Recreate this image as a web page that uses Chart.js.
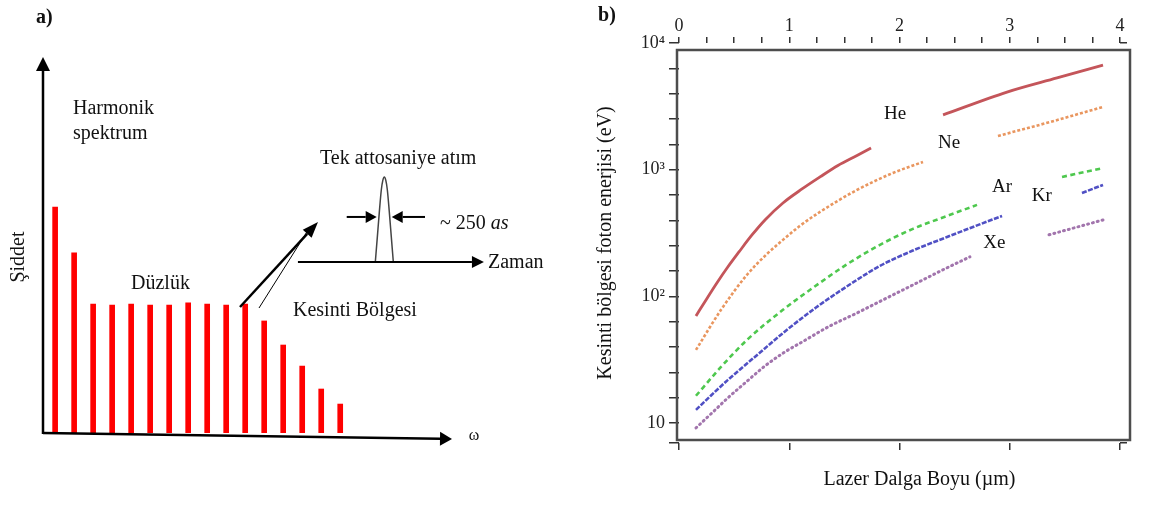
<!DOCTYPE html>
<html>
<head>
<meta charset="utf-8">
<script src="https://cdn.jsdelivr.net/npm/chart.js@4.4.1/dist/chart.umd.min.js"></script>
<style>
  html, body { margin: 0; padding: 0; background: #fff; }
  #wrap { position: relative; width: 1172px; height: 523px; overflow: hidden; }
  #chart-a { position: absolute; left: 0; top: 0; }
  #chart-b { position: absolute; left: 580px; top: 0; }
</style>
</head>
<body>
<div id="wrap">
  <canvas id="chart-a" width="580" height="523"></canvas>
  <canvas id="chart-b" width="592" height="523"></canvas>
</div>
<script>
Chart.defaults.font.family = "'Liberation Serif', 'Times New Roman', serif";
Chart.defaults.color = "#111";
Chart.defaults.animation = false;

// ---- panel a : harmonic spectrum (arbitrary units) ----
const harmonicOrder = [1, 2, 3, 4, 5, 6, 7, 8, 9, 10, 11, 12, 13, 14, 15, 16];
const harmonicIntensity = [60.1, 47.9, 34.3, 34.0, 34.3, 34.0, 34.0, 34.6, 34.3, 34.0, 34.3, 29.8, 23.4, 17.8, 11.7, 7.7];

// single attosecond pulse (time in as, amplitude normalised)
const pulseTime = [-150, -117, -83, -50, -25, 0, 25, 50, 83, 117, 150];
const pulseAmp = [0, 0.29, 0.59, 0.85, 0.96, 1, 0.96, 0.85, 0.59, 0.29, 0];

// ---- panel b : cutoff photon energy (eV) vs laser wavelength (um) ----
// null = break in the curve (where the label sits)
const heX = [0.154, 0.245, 0.345, 0.444, 0.544, 0.662, 0.78, 0.943, 1.116, 1.279, 1.442, 1.615, 1.742, null, 2.395, 2.975, 3.429, 3.846];
const heY = [70, 93.7, 128, 171, 224, 305, 401, 546, 704, 876, 1079, 1294, 1483, null, 2705, 4100, 5300, 6700];

const neX = [0.154, 0.381, 0.617, 0.798, 0.943, 1.097, 1.279, 1.615, 1.941, 2.213, null, 2.893, 3.365, 3.846];
const neY = [37.8, 78.2, 148, 216, 279, 360, 464, 692, 942, 1151, null, 1845, 2377, 3126];

const arX = [0.154, 0.381, 0.617, 0.943, 1.279, 1.515, 1.823, 2.122, 2.431, 2.703, null, 3.474, 3.846];
const arY = [16.4, 27.7, 45.3, 78.2, 128, 177, 255, 341, 431, 527, null, 876, 1030];

const krX = [0.154, 0.281, 0.444, 0.735, 0.961, 1.243, 1.615, 1.823, 2.122, 2.431, 2.667, 2.93, null, 3.655, 3.846];
const krY = [12.7, 16.2, 21.9, 36.0, 52.8, 81.6, 135, 174, 230, 294, 353, 431, null, 655, 757];

const xeX = [0.154, 0.299, 0.444, 0.599, 0.78, 0.961, 1.116, 1.37, 1.615, 1.823, 2.122, 2.431, 2.639, null, 3.356, 3.846];
const xeY = [9.14, 12.0, 15.8, 20.7, 28.2, 36.4, 43.6, 58.4, 73.9, 91.2, 123, 168, 205, null, 306, 401];

const elementNames = ["He", "Ne", "Ar", "Kr", "Xe"];
const labelX = [1.96, 2.45, 2.93, 3.29, 2.86];
const labelY = [2754, 1626, 730, 619, 264];

const yMin = 6.95;
const yMax = 10000;
const yMajorValues = [10, 100, 1000, 10000];
const yMajorLabels = ["10", "10²", "10³", "10⁴"];
const yMinorValues = [15.85, 25.12, 39.81, 63.1, 158.5, 251.2, 398.1, 631, 1585, 2512, 3981, 6310];

function points(xs, ys) {
  return xs.map((x, i) => ({ x: x === null ? (xs[i - 1] + xs[i + 1]) / 2 : x, y: ys[i] }));
}

function arrow(ctx, x1, y1, x2, y2, head, half, width) {
  const ang = Math.atan2(y2 - y1, x2 - x1);
  const bx = x2 - head * Math.cos(ang);
  const by = y2 - head * Math.sin(ang);
  ctx.save();
  ctx.strokeStyle = "#000";
  ctx.fillStyle = "#000";
  ctx.lineWidth = width;
  ctx.beginPath();
  ctx.moveTo(x1, y1);
  ctx.lineTo(bx, by);
  ctx.stroke();
  ctx.beginPath();
  ctx.moveTo(x2, y2);
  ctx.lineTo(bx + half * Math.sin(ang), by - half * Math.cos(ang));
  ctx.lineTo(bx - half * Math.sin(ang), by + half * Math.cos(ang));
  ctx.closePath();
  ctx.fill();
  ctx.restore();
}

//panel a decorations: axes arrows and texts
const spectrumDecor = {
  id: "spectrumDecor",
  afterDraw(chart) {
    const { ctx, chartArea: a, scales } = chart;
    const tx = scales.tx, ty = scales.ty;

    arrow(ctx, a.left, a.bottom + 1, a.left, a.top, 14, 7, 2.5);
    arrow(ctx, a.left, a.bottom, a.right, a.bottom + 6, 12, 7, 2.5);

    // arrow from the cutoff to the pulse
    arrow(ctx, 240, 307, 318, 222, 16, 6, 2.5);
    ctx.save();
    ctx.lineWidth = 1;
    ctx.beginPath();
    ctx.moveTo(259, 308);
    ctx.lineTo(310, 227);
    ctx.stroke();
    ctx.restore();

    // time axis + width arrows
    const base = ty.getPixelForValue(0);
    arrow(ctx, tx.getPixelForValue(-1440), base, tx.getPixelForValue(1660), base, 12, 6, 2);
    const half = ty.getPixelForValue(0.53);
    arrow(ctx, tx.getPixelForValue(-627), half, tx.getPixelForValue(-127), half, 11, 6, 2);
    arrow(ctx, tx.getPixelForValue(678), half, tx.getPixelForValue(123), half, 11, 6, 2);

    ctx.save();
    ctx.fillStyle = "#111";
    ctx.textBaseline = "alphabetic";
    ctx.font = "bold 20px 'Liberation Serif'";
    ctx.fillText("a)", 36, 23);
    ctx.font = "20px 'Liberation Serif'";
    ctx.fillText("Harmonik", 73, 114);
    ctx.fillText("spektrum", 73, 139);
    ctx.fillText("Düzlük", 131, 289);
    ctx.fillText("Kesinti Bölgesi", 293, 316);
    ctx.fillText("Tek attosaniye atım", 320, 164);
    ctx.fillText("Zaman", 488, 268);
    ctx.fillText("~ 250 ", 440, 229);
    const w = ctx.measureText("~ 250 ").width;
    ctx.font = "italic 20px 'Liberation Serif'";
    ctx.fillText("as", 440 + w, 229);
    ctx.font = "16px 'Liberation Serif'";
    ctx.textAlign = "center";
    ctx.fillText("ω", 474, 440);
    ctx.font = "20px 'Liberation Serif'";
    ctx.translate(24, 257);
    ctx.rotate(-Math.PI / 2);
    ctx.fillText("Şiddet", 0, 0);
    ctx.restore();
  }
};

new Chart(document.getElementById("chart-a"), {
  type: "bar",
  data: {
    datasets: [
      {
        type: "bar",
        data: points(harmonicOrder, harmonicIntensity),
        backgroundColor: "#ff0000",
        borderWidth: 0,
        barThickness: 5,
        xAxisID: "x",
        yAxisID: "y"
      },
      {
        type: "line",
        data: points(pulseTime, pulseAmp),
        borderColor: "#444",
        borderWidth: 1.5,
        pointRadius: 0,
        cubicInterpolationMode: "monotone",
        xAxisID: "tx",
        yAxisID: "ty"
      }
    ]
  },
  options: {
    responsive: false,
    devicePixelRatio: 1,
    layout: { padding: { left: 43, right: 128, top: 57, bottom: 90 } },
    plugins: { legend: { display: false }, tooltip: { enabled: false } },
    scales: {
      x: { type: "linear", axis: "x", min: 0.23, max: 21.75, offset: false, display: false },
      y: { type: "linear", axis: "y", min: 0, max: 100, display: false },
      tx: { type: "linear", axis: "x", min: -5689, max: 1128, offset: false, display: false },
      ty: { type: "linear", axis: "y", min: -2.012, max: 2.412, display: false }
    }
  },
  plugins: [spectrumDecor]
});

//panel b decorations: frame, gas labels, titles
const cutoffDecor = {
  id: "cutoffDecor",
  beforeDatasetsDraw(chart) {
    const { ctx, chartArea: a } = chart;
    ctx.save();
    ctx.strokeStyle = "#4d4d4d";
    ctx.lineWidth = 2.5;
    ctx.strokeRect(a.left - 2, a.top + 7, a.right - a.left + 12, a.bottom - a.top - 10);
    ctx.restore();
  },
  afterDatasetsDraw(chart) {
    const { ctx, chartArea: a, scales } = chart;
    ctx.save();
    ctx.fillStyle = "#111";
    ctx.textAlign = "center";
    ctx.textBaseline = "middle";
    ctx.font = "19px 'Liberation Serif'";
    elementNames.forEach((name, i) => {
      ctx.fillText(name, scales.x.getPixelForValue(labelX[i]), scales.y.getPixelForValue(labelY[i]));
    });
    ctx.font = "20px 'Liberation Serif'";
    ctx.fillText("Lazer Dalga Boyu (µm)", (a.left + a.right) / 2 + 20, a.bottom + 37);
    ctx.font = "bold 20px 'Liberation Serif'";
    ctx.fillText("b)", 27, 16);
    ctx.restore();
  }
};

const tickGrid = { drawOnChartArea: false, color: "#333", lineWidth: 1.5 };

new Chart(document.getElementById("chart-b"), {
  type: "line",
  data: {
    datasets: [
      { label: "He", data: points(heX, heY), borderColor: "#c4555a", borderWidth: 2.8 },
      { label: "Ne", data: points(neX, neY), borderColor: "#e9965f", borderWidth: 2.6, borderDash: [3, 2] },
      { label: "Ar", data: points(arX, arY), borderColor: "#4ec84e", borderWidth: 2.6, borderDash: [5, 3.5] },
      { label: "Kr", data: points(krX, krY), borderColor: "#5050c4", borderWidth: 2.6, borderDash: [5, 1.5] },
      { label: "Xe", data: points(xeX, xeY), borderColor: "#a275ad", borderWidth: 3, borderDash: [1, 4], borderCapStyle: "round" }
    ].map(d => Object.assign(d, { pointRadius: 0, cubicInterpolationMode: "monotone", spanGaps: false, fill: false }))
  },
  options: {
    responsive: false,
    devicePixelRatio: 1,
    layout: { padding: 0 },
    plugins: { legend: { display: false }, tooltip: { enabled: false } },
    scales: {
      x: {
        type: "linear", position: "bottom", min: 0, max: 4,
        ticks: { stepSize: 1, callback: () => "" },
        grid: Object.assign({ tickLength: 7 }, tickGrid),
        border: { display: false },
        afterFit: (s) => { s.height = 80; }
      },
      x2: {
        type: "linear", axis: "x", position: "top", min: 0, max: 4,
        ticks: {
          stepSize: 0.25, padding: 0, autoSkip: false, maxRotation: 0,
          color: "#222", font: { size: 18 },
          callback: (v) => Number.isInteger(v) ? String(v) : ""
        },
        grid: Object.assign({ tickLength: 6 }, tickGrid),
        border: { display: false },
        afterFit: (s) => { s.height = 43; }
      },
      y: {
        type: "logarithmic", position: "left", min: yMin, max: yMax,
        afterBuildTicks: (s) => {
          s.ticks = [yMin].concat(yMajorValues, yMinorValues).sort((p, q) => p - q).map(v => ({ value: v }));
        },
        ticks: {
          autoSkip: false, padding: 4, color: "#222", font: { size: 18 },
          callback: (v) => {
            const i = yMajorValues.indexOf(v);
            return i >= 0 ? yMajorLabels[i] : "";
          }
        },
        grid: Object.assign({ tickLength: 10 }, tickGrid),
        border: { display: false },
        title: {
          display: true,
          text: "Kesinti bölgesi foton enerjisi (eV)",
          font: { size: 20 },
          color: "#111",
          padding: { top: 14, bottom: 0 }
        },
        afterFit: (s) => { s.width = 99; }
      },
      yr: {
        type: "logarithmic", axis: "y", position: "right", min: yMin, max: yMax,
        afterBuildTicks: (s) => { s.ticks = [{ value: yMin }, { value: yMax }]; },
        ticks: { callback: () => "" },
        grid: Object.assign({ tickLength: 7 }, tickGrid),
        border: { display: false },
        afterFit: (s) => { s.width = 52; }
      }
    }
  },
  plugins: [cutoffDecor]
});
</script>
</body>
</html>
